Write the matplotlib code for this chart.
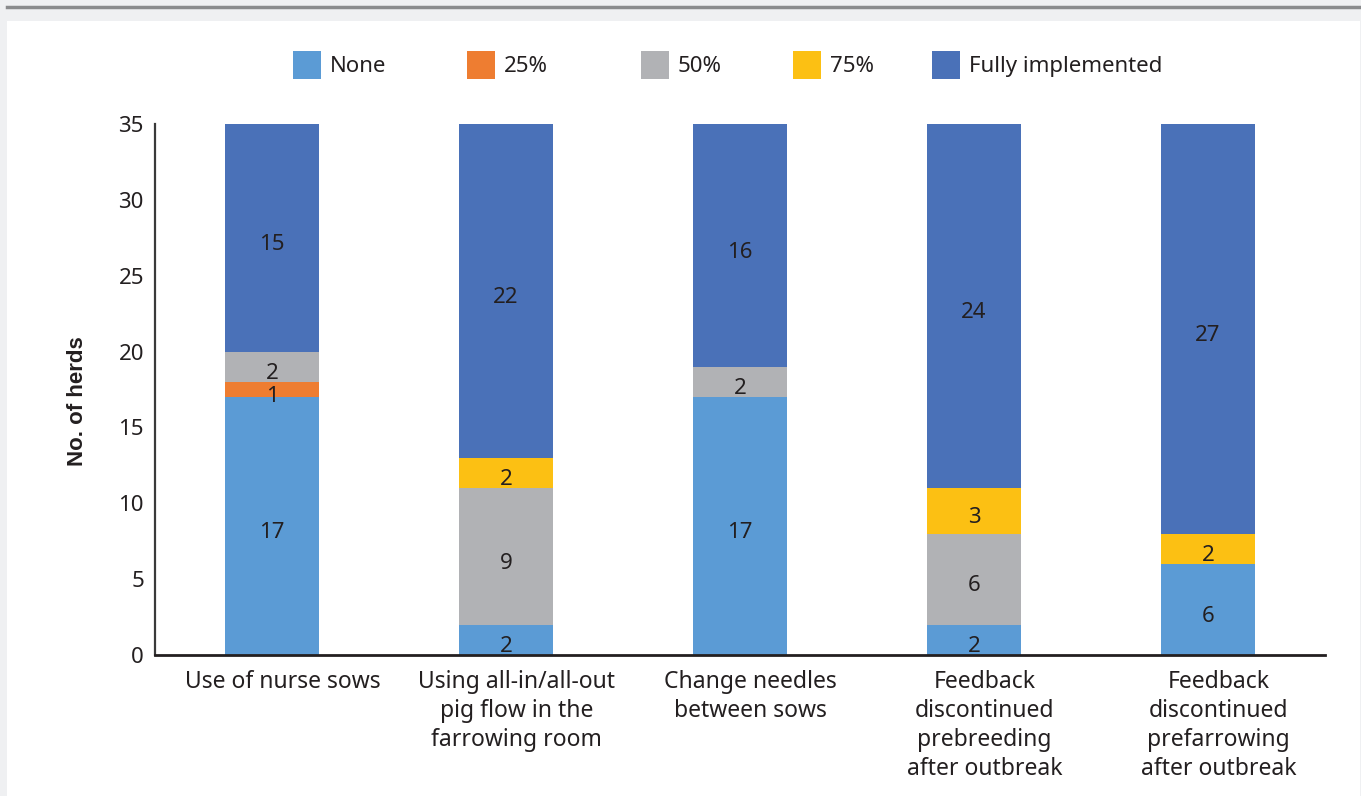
import numpy as np
import matplotlib.pyplot as plt
from matplotlib.patches import Rectangle, Patch
from matplotlib.lines import Line2D

plt.rcParams['font.family'] = ['Noto Sans', 'DejaVu Sans']

categories = ['Use of nurse sows',
              'Using all-in/all-out\npig flow in the\nfarrowing room',
              'Change needles\nbetween sows',
              'Feedback\ndiscontinued\nprebreeding\nafter outbreak',
              'Feedback\ndiscontinued\nprefarrowing\nafter outbreak']
levels = ['None', '25%', '50%', '75%', 'Fully implemented']
none_vals = [17, 2, 17, 2, 6]
q25_vals = [1, 0, 0, 0, 0]
q50_vals = [2, 9, 2, 6, 0]
q75_vals = [0, 2, 0, 3, 2]
full_vals = [15, 22, 16, 24, 27]
colors = ['#5b9bd5', '#ee7d31', '#b1b2b5', '#fcc013', '#4a71b8']

series = [none_vals, q25_vals, q50_vals, q75_vals, full_vals]
txt = '#231f20'

fig = plt.figure(figsize=(13.61, 7.96), dpi=100, facecolor='#eff0f2')
# white panel and the grey rule across the top
fig.patches.append(Rectangle((7 / 1361, 0), 1353 / 1361, 775 / 796,
                             transform=fig.transFigure, facecolor='white',
                             edgecolor='none', zorder=-5))
fig.lines.append(Line2D([7 / 1361, 1], [789 / 796, 789 / 796],
                        transform=fig.transFigure, color='#8a8b8d', lw=2.5))

ax = fig.add_axes([155 / 1361, 141 / 796, 1170 / 1361, 531 / 796])
ax.set_zorder(2)
ax.set_facecolor('none')

x = np.arange(len(categories))
bottom = np.zeros(len(categories))
for vals, col in zip(series, colors):
    vals = np.array(vals, dtype=float)
    ax.bar(x, vals, width=0.405, bottom=bottom, color=col, zorder=2)
    for xi, b, v in zip(x, bottom, vals):
        if v > 0:
            ax.annotate(f'{int(v)}', (xi, b + v / 2), xytext=(0, -3),
                        textcoords='offset points', ha='center',
                        va='center_baseline', fontsize=16, color=txt, zorder=3)
    bottom += vals

ax.set_xlim(-0.5, 4.5)
ax.set_ylim(0, 35)
ax.set_yticks(range(0, 36, 5))
# category labels sit a little right of the bar centres (ticks are hidden)
ax.set_xticks(x + 0.045)
ax.set_xticklabels(categories, fontsize=16.5, color=txt, linespacing=1.28)
ax.tick_params(axis='y', length=0, pad=8, labelsize=16, labelcolor=txt)
ax.tick_params(axis='x', length=0, pad=11)
for s in ['top', 'right']:
    ax.spines[s].set_visible(False)
ax.spines['left'].set_color('#3a3a3a')
ax.spines['bottom'].set_color('#231f20')
ax.spines['left'].set_linewidth(1.6)
ax.spines['bottom'].set_linewidth(2)

ax.set_ylabel('No. of herds', fontsize=16, fontweight='bold',
              family=['Liberation Sans', 'DejaVu Sans'], color=txt)
ax.yaxis.set_label_coords(-0.057, 0.478)

# one legend per entry so each sits at its own spot along the top
legend_x = [293, 467, 641, 793, 932]
for lx, lab, col in zip(legend_x, levels, colors):
    lg = fig.legend([Patch(facecolor=col, edgecolor='none')], [lab], loc='center left',
                    bbox_to_anchor=(lx / 1361, 1 - 65 / 796), frameon=False,
                    fontsize=16, handlelength=1.25, handleheight=1.55,
                    handletextpad=0.4, borderpad=0, borderaxespad=0, labelcolor=txt)

fig.savefig('out.png', dpi=100, facecolor=fig.get_facecolor())
